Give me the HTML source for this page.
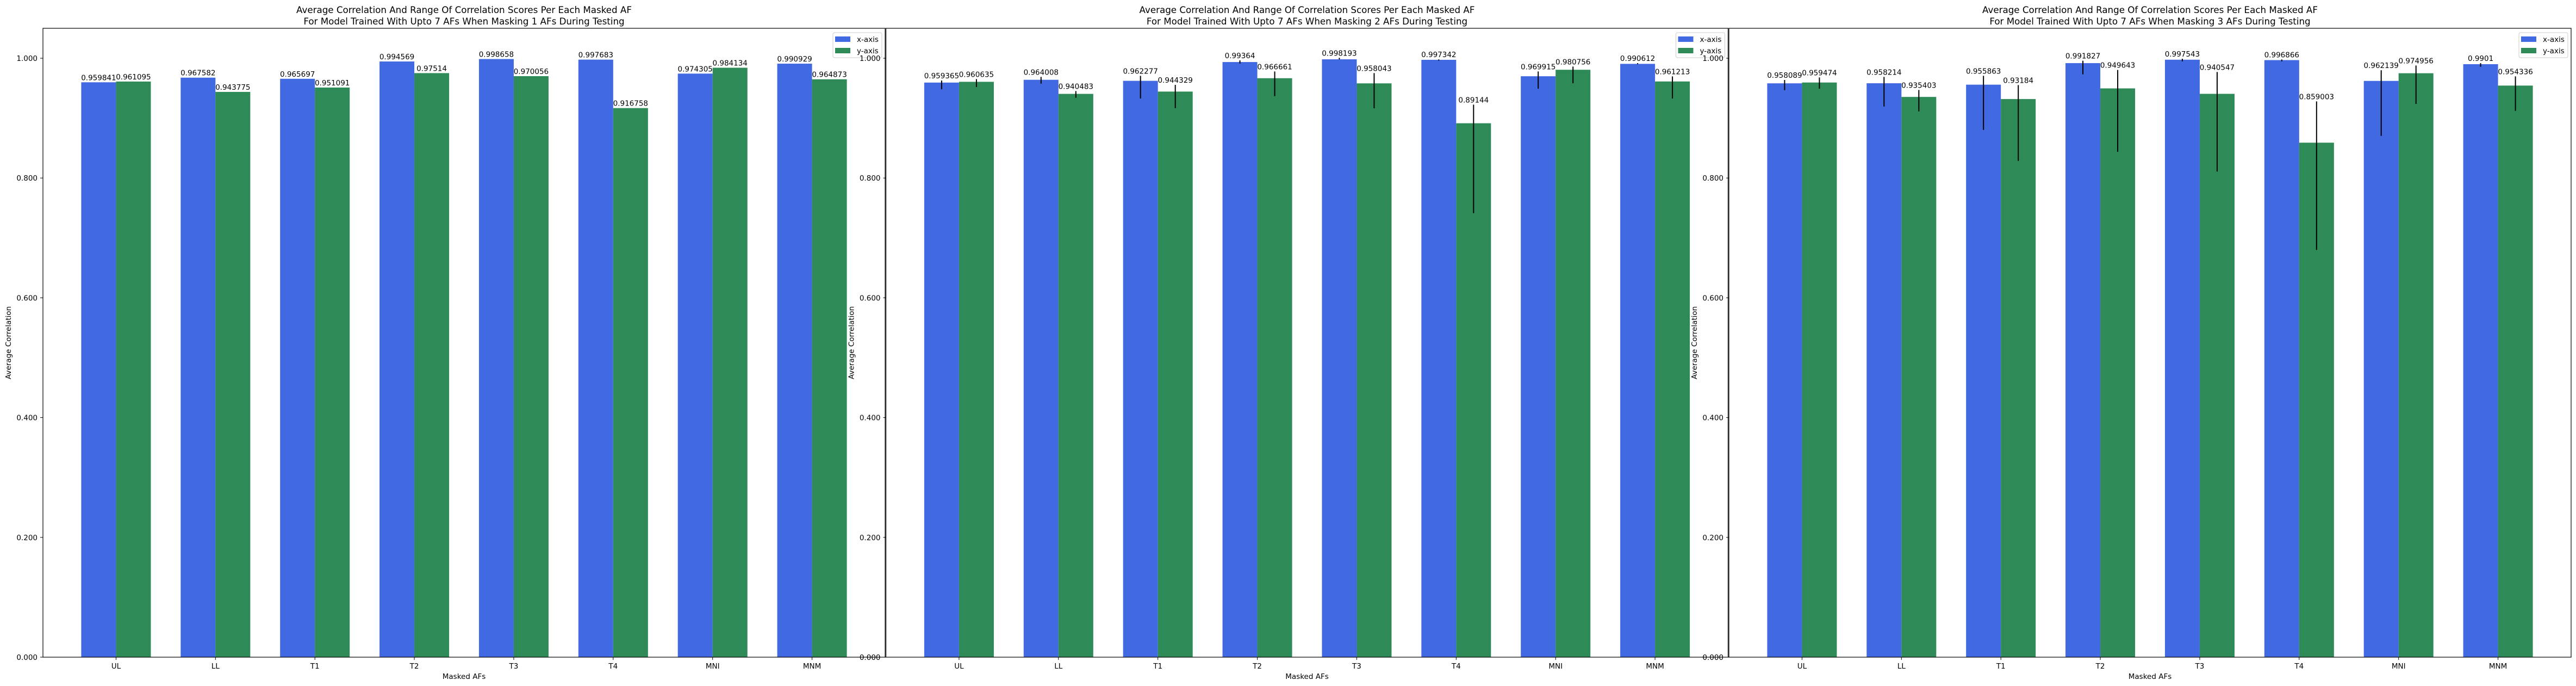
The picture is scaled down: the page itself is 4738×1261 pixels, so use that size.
<!DOCTYPE html>
<html><head><meta charset="utf-8"><style>
html,body{margin:0;padding:0;background:#fff;}
svg{display:block;font-family:"DejaVu Sans","Liberation Sans",sans-serif;}
</style></head>
<body>
<svg id="chart" xmlns="http://www.w3.org/2000/svg" width="4738" height="1261" viewBox="0 0 4738 1261"></svg>
<script>
const categories = ["UL","LL","T1","T2","T3","T4","MNI","MNM"];
const maskCounts = [1, 2, 3];
const yTicks = [0, 0.2, 0.4, 0.6, 0.8, 1.0];
const yTickLabels = ["0.000","0.200","0.400","0.600","0.800","1.000"];
// panel 1
const p1X = [0.959841,0.967582,0.965697,0.994569,0.998658,0.997683,0.974305,0.990929];
const p1Y = [0.961095,0.943775,0.951091,0.97514,0.970056,0.916758,0.984134,0.964873];
// panel 2
const p2X = [0.959365,0.964008,0.962277,0.99364,0.998193,0.997342,0.969915,0.990612];
const p2Y = [0.960635,0.940483,0.944329,0.966661,0.958043,0.89144,0.980756,0.961213];
const p2XLo = [0.9482,0.9576,0.9328,0.9912,0.9979,0.9960,0.9491,0.9900];
const p2XHi = [0.9628,0.9688,0.9706,0.9964,1.0007,0.9980,0.9779,0.9918];
const p2YLo = [0.9519,0.9340,0.9167,0.9367,0.9164,0.7414,0.9582,0.9328];
const p2YHi = [0.9652,0.9452,0.9555,0.9779,0.9752,0.9225,0.9861,0.9697];
// panel 3
const p3X = [0.958089,0.958214,0.955863,0.991827,0.997543,0.996866,0.962139,0.9901];
const p3Y = [0.959474,0.935403,0.93184,0.949643,0.940547,0.859003,0.974956,0.954336];
const p3XLo = [0.9467,0.9194,0.8804,0.9731,0.9948,0.9948,0.8704,0.9858];
const p3XHi = [0.9637,0.9688,0.9706,0.9958,0.9991,0.9979,0.9800,0.9918];
const p3YLo = [0.9491,0.9113,0.8286,0.8438,0.8109,0.6800,0.9237,0.9122];
const p3YHi = [0.9679,0.9470,0.9552,0.9804,0.9770,0.9280,0.9879,0.9697];

const panels = [
  {xs:p1X, ys:p1Y, xlo:null, xhi:null, ylo:null, yhi:null},
  {xs:p2X, ys:p2Y, xlo:p2XLo, xhi:p2XHi, ylo:p2YLo, yhi:p2YHi},
  {xs:p3X, ys:p3Y, xlo:p3XLo, xhi:p3XHi, ylo:p3YLo, yhi:p3YHi}
];

const NS = "http://www.w3.org/2000/svg";
const svg = document.getElementById("chart");
function mk(tag, attrs, parent){
  const e = document.createElementNS(NS, tag);
  for (const k in attrs) e.setAttribute(k, attrs[k]);
  (parent||svg).appendChild(e);
  return e;
}
const TOP = 52, BOT = 1208, W = 1549, YMAX = 1.05;
const BW = 0.35, XMIN = -0.735, XMAX = 7.735;
const BLUE = "#4169e1", GREEN = "#2e8b57";

panels.forEach((p, pi) => {
  const L = 79 + pi * 1550.5;
  const xS = v => L + (v - XMIN) / (XMAX - XMIN) * W;
  const yS = v => BOT - v / YMAX * (BOT - TOP);
  const g = mk("g", {});
  
  

  categories.forEach((c, i) => {
    [[p.xs, BLUE, -1, p.xlo, p.xhi, 'x'], [p.ys, GREEN, 1, p.ylo, p.yhi, 'y']].forEach(s => {
      const vals = s[0], v = vals[i];
      const cx = xS(i + s[2] * BW / 2);
      const r = mk("rect", {x: cx - xS(BW/2) + xS(0), y: yS(v), width: xS(BW) - xS(0), height: yS(0) - yS(v), fill: s[1]}, g);
      
      
      let top = v;
      if (s[3]) {
        const lo = s[3][i], hi = s[4][i];
        top = Math.max(v, hi);
        const ln = mk("line", {x1: cx, x2: cx, y1: yS(hi), y2: yS(lo), stroke: "#000", "stroke-width": 2}, g);
        
        
      }
      const t = mk("text", {x: cx, y: yS(top) - 4, "text-anchor": "middle", "font-size": 13.5, fill: "#000"}, g);
      t.textContent = String(v);
      
      
    });
  });

  const fr = mk("rect", {x: L, y: TOP, width: W, height: BOT - TOP, fill: "none", stroke: "#000", "stroke-width": 1.2}, g);
  
  

  yTicks.forEach((v, k) => {
    mk("line", {x1: L - 5, x2: L, y1: yS(v), y2: yS(v), stroke: "#000", "stroke-width": 1}, g);
    const t = mk("text", {x: L - 10, y: yS(v) + 5, "text-anchor": "end", "font-size": 13.5, fill: "#000"}, g);
    t.textContent = yTickLabels[k];
    
    
  });
  categories.forEach((c, i) => {
    mk("line", {x1: xS(i), x2: xS(i), y1: BOT, y2: BOT + 5, stroke: "#000", "stroke-width": 1}, g);
    const t = mk("text", {x: xS(i), y: BOT + 21, "text-anchor": "middle", "font-size": 13.5, fill: "#000"}, g);
    t.textContent = c;
    
    
  });
  const xl = mk("text", {x: L + W/2, y: BOT + 40, "text-anchor": "middle", "font-size": 13.5, fill: "#000"}, g);
  xl.textContent = "Masked AFs";
  
  
  const yl = mk("text", {x: 0, y: 0, transform: "translate(" + (L - 59) + "," + ((TOP+BOT)/2) + ") rotate(-90)", "text-anchor": "middle", "font-size": 13.5, fill: "#000"}, g);
  yl.textContent = "Average Correlation";
  
  

  const t1 = mk("text", {x: L + W/2, y: 24, "text-anchor": "middle", "font-size": 16.7, fill: "#000"}, g);
  t1.textContent = "Average Correlation And Range Of Correlation Scores Per Each Masked AF";
  
  
  const t2 = mk("text", {x: L + W/2, y: 45, "text-anchor": "middle", "font-size": 16.7, fill: "#000"}, g);
  t2.textContent = "For Model Trained With Upto 7 AFs When Masking " + maskCounts[pi] + " AFs During Testing";
  
  

  const R = L + W;
  const lg = mk("g", {}, g);
  
  
  mk("rect", {x: R - 96, y: 60, width: 90, height: 46, rx: 3, fill: "#fff", "fill-opacity": 0.8, stroke: "#ccc", "stroke-width": 1}, lg);
  [["x-axis", BLUE, 72], ["y-axis", GREEN, 93]].forEach(e => {
    const le = mk("g", {}, lg);
    
    
    mk("rect", {x: R - 92, y: e[2] - 5, width: 28, height: 10, fill: e[1]}, le);
    const lt = mk("text", {x: R - 52, y: e[2] + 5, "font-size": 13.5, fill: "#000"}, le);
    lt.textContent = e[0];
  });
});
</script>
</body></html>
